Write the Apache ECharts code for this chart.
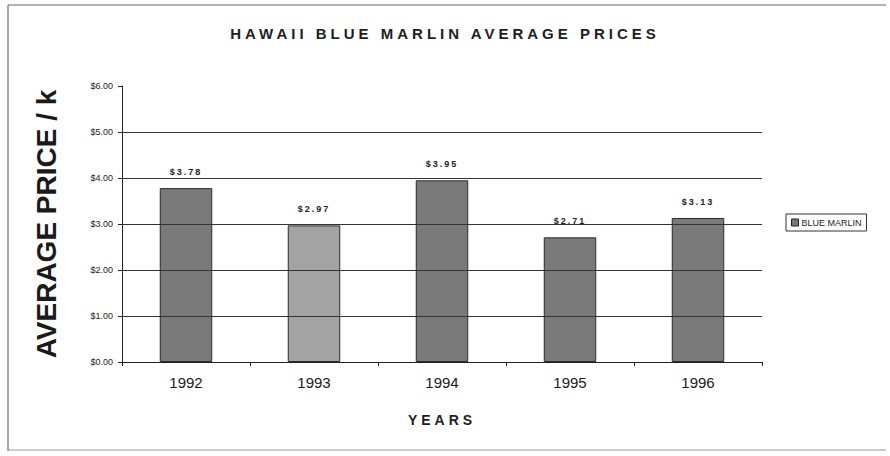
<!DOCTYPE html>
<html>
<head>
<meta charset="utf-8">
<script src="https://cdn.jsdelivr.net/npm/echarts@6/dist/echarts.min.js"></script>
<style>
  html, body { margin: 0; padding: 0; background: #fff; }
  #chart { width: 890px; height: 456px; }
  #chart text[style*="Liberation Sans"] { letter-spacing: 4px; }
  #chart text[style*="Helvetica"] { letter-spacing: 2px; }
</style>
</head>
<body>
<div id="chart"></div>
<script>
const years = ['1992', '1993', '1994', '1995', '1996'];
const prices = [3.78, 2.97, 3.95, 2.71, 3.13];
const gridValues = [1, 2, 3, 4, 5];
const seriesName = 'BLUE MARLIN';
const titleText = 'HAWAII BLUE MARLIN AVERAGE PRICES';
const yName = 'AVERAGE PRICE / k';
const xName = 'YEARS';

const darkBar = '#7a7a7a';
const lightBar = '#a3a3a3';

const chart = echarts.init(document.getElementById('chart'), null, { renderer: 'svg' });
chart.setOption({
  backgroundColor: '#ffffff',
  animation: false,
  title: {
    text: titleText,
    left: 'center',
    top: 21,
    textStyle: { fontFamily: 'Liberation Sans', fontWeight: 'bold', fontSize: 15, color: '#1e1e1e' }
  },
  legend: {
    data: [seriesName],
    left: 786,
    top: 214,
    orient: 'vertical',
    padding: [4, 5, 4, 5],
    borderColor: '#333',
    borderWidth: 1,
    backgroundColor: '#fff',
    itemWidth: 7,
    itemHeight: 7,
    icon: 'rect',
    itemStyle: { color: darkBar, borderColor: '#222', borderWidth: 1 },
    textStyle: { fontFamily: 'Arial', fontSize: 9, color: '#222', padding: [0, 0, 0, -2] }
  },
  grid: { left: 122, right: 128, top: 86, bottom: 94, containLabel: false },
  xAxis: {
    type: 'category',
    data: years,
    name: xName,
    nameLocation: 'middle',
    nameGap: 51,
    nameTextStyle: { fontFamily: 'Liberation Sans', fontWeight: 'bold', fontSize: 14, color: '#1e1e1e' },
    axisLine: { lineStyle: { color: '#222', width: 1 } },
    axisTick: { show: true, length: 4, lineStyle: { color: '#222' } },
    axisLabel: { fontFamily: 'Arial', fontSize: 15, color: '#1a1a1a', margin: 13 }
  },
  yAxis: {
    type: 'value',
    min: 0,
    max: 6,
    interval: 1,
    name: yName,
    nameLocation: 'middle',
    nameGap: 62,
    nameTextStyle: { fontFamily: 'Arial', fontWeight: 'bold', fontSize: 28, color: '#1a1a1a' },
    axisLine: { show: true, lineStyle: { color: '#222', width: 1 } },
    axisTick: { show: true, length: 4, lineStyle: { color: '#222' } },
    splitLine: { show: false },
    axisLabel: {
      fontFamily: 'Arial', fontSize: 9, color: '#222', margin: 9,
      formatter: v => '$' + v.toFixed(2)
    }
  },
  series: [{
    name: seriesName,
    type: 'bar',
    data: prices,
    barWidth: '41%',
    itemStyle: {
      color: p => (p.dataIndex === 1 ? lightBar : darkBar),
      borderColor: '#2a2a2a',
      borderWidth: 1
    },
    label: {
      show: true,
      position: 'top',
      distance: 12,
      fontFamily: 'Helvetica, Liberation Sans, Arial',
      fontWeight: 'bold',
      fontSize: 9,
      color: '#222',
      formatter: p => '$' + p.value.toFixed(2)
    },
    markLine: {
      silent: true,
      symbol: 'none',
      label: { show: false },
      lineStyle: { color: '#333', width: 1, type: 'solid' },
      data: gridValues.map(v => ({ yAxis: v }))
    },
    z: 3
  }],
  graphic: [
    { type: 'line', shape: { x1: 8, y1: 5, x2: 886, y2: 5 }, style: { stroke: '#666', lineWidth: 1 }, silent: true },
    { type: 'line', shape: { x1: 8, y1: 5, x2: 8, y2: 451 }, style: { stroke: '#555', lineWidth: 1 }, silent: true },
    { type: 'line', shape: { x1: 8, y1: 450, x2: 886, y2: 450 }, style: { stroke: '#999', lineWidth: 1 }, silent: true }
  ]
});
</script>
</body>
</html>
